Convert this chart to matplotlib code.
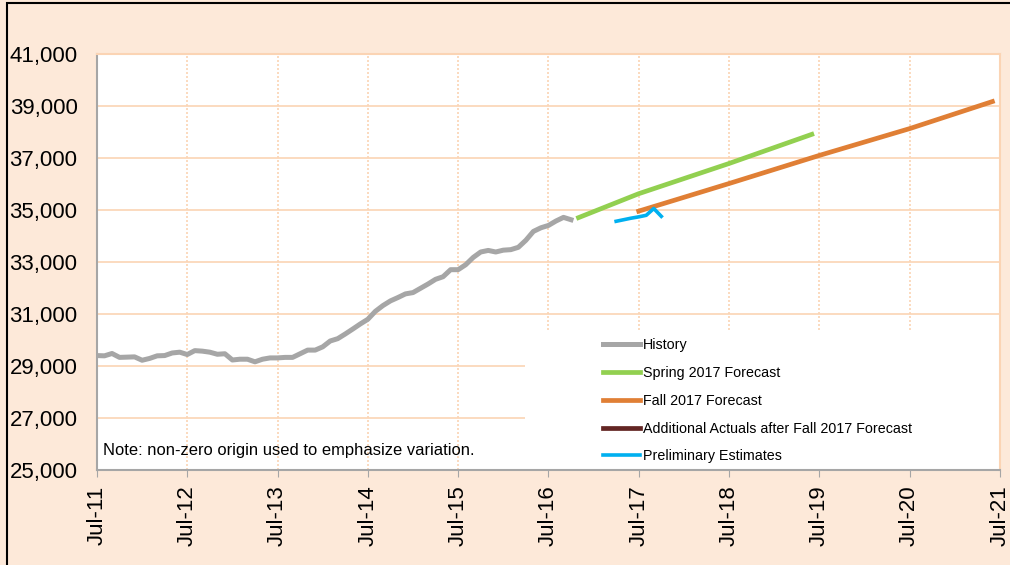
import matplotlib
matplotlib.use("Agg")
import matplotlib.pyplot as plt
from matplotlib.patches import Rectangle

# Months counted from Jul-2011 (0 = Jul-11)
hist_vals = [29400, 29390, 29480, 29330, 29340, 29350, 29220, 29290, 29390, 29400,
             29500, 29530, 29440, 29590, 29570, 29530, 29450, 29470, 29230, 29260,
             29260, 29160, 29260, 29310, 29310, 29330, 29330, 29470, 29610, 29610,
             29735, 29960, 30050, 30230, 30420, 30615, 30795, 31100, 31320, 31500,
             31630, 31770, 31820, 31985, 32150, 32330, 32430, 32700, 32700, 32890,
             33170, 33380, 33440, 33380, 33450, 33470, 33560, 33830, 34170, 34310,
             34400, 34570, 34710, 34620]
hist_months = list(range(len(hist_vals)))

spring_months = [64, 72, 84, 95]
spring_vals = [34700, 35620, 36780, 37900]

fall_months = [72, 84, 96, 108, 119]
fall_vals = [34950, 36010, 37090, 38120, 39160]

prelim_months = [69, 70, 71, 72, 73, 74, 75]
prelim_vals = [34560, 34620, 34680, 34730, 34790, 35050, 34750]

# no additional actuals shown on the chart
extra_months = []
extra_vals = []

tick_months = [0, 12, 24, 36, 48, 60, 72, 84, 96, 108, 120]
tick_labels = ['Jul-11', 'Jul-12', 'Jul-13', 'Jul-14', 'Jul-15', 'Jul-16',
               'Jul-17', 'Jul-18', 'Jul-19', 'Jul-20', 'Jul-21']
y_ticks = list(range(25000, 41001, 2000))

BG = '#FDE9D9'
GRID = '#FBD4B4'
plt.rcParams['font.family'] = ['Liberation Sans', 'DejaVu Sans']

fig = plt.figure(figsize=(10.1, 5.65), dpi=100, facecolor=BG)
ax = fig.add_axes([0.096, 0.168, 0.894, 0.737])
ax.set_facecolor('white')

ax.plot(hist_months, hist_vals, color='#A6A6A6', lw=3.6, label='History', zorder=3)
ax.plot(spring_months, spring_vals, color='#92D050', lw=3.4, label='Spring 2017 Forecast', zorder=3)
ax.plot(fall_months, fall_vals, color='#E07F35', lw=3.4, label='Fall 2017 Forecast', zorder=3)
ax.plot(extra_months, extra_vals, color='#632523', lw=3.4,
        label='Additional Actuals after Fall 2017 Forecast', zorder=3)
ax.plot(prelim_months, prelim_vals, color='#00B0F0', lw=2.6, label='Preliminary Estimates', zorder=3)

ax.set_xlim(0, 120)
ax.set_ylim(25000, 41000)
ax.set_xticks(tick_months)
ax.set_xticklabels(tick_labels, rotation=90, fontsize=16)
ax.set_yticks(y_ticks)
ax.set_yticklabels([f'{v:,}' for v in y_ticks], fontsize=16)
ax.tick_params(axis='y', length=0, pad=14)
ax.tick_params(axis='x', length=5, color='#A6A6A6', pad=6)

ax.set_axisbelow(True)
ax.grid(axis='y', color=GRID, lw=1.2, ls='-')
ax.grid(axis='x', color=GRID, lw=1.2, ls=(0, (1.2, 1.2)))

for s in ['left', 'bottom']:
    ax.spines[s].set_color('#A6A6A6')
    ax.spines[s].set_linewidth(1.5)
for s in ['top', 'right']:
    ax.spines[s].set_color(GRID)
    ax.spines[s].set_linewidth(1.5)

# white area behind the legend
ax.add_patch(Rectangle((0.474, 0), 0.526, 0.334, transform=ax.transAxes,
                       facecolor='white', edgecolor='none', zorder=1))

ax.legend(loc='upper left', bbox_to_anchor=(0.560, 0.316), frameon=False,
          fontsize=10.3, handlelength=2.6, handletextpad=0.2, labelspacing=0.96,
          borderpad=0, borderaxespad=0)

ax.text(0.0066, 0.048, 'Note: non-zero origin used to emphasize variation.',
        transform=ax.transAxes, fontsize=11.9, va='center', ha='left')

# outer black frame (cropped at right and bottom)
fig.patches.append(Rectangle((0.007, -0.02), 1.05, 1.015, transform=fig.transFigure,
                             facecolor='none', edgecolor='black', lw=1.5))

fig.savefig('out.png', dpi=100, facecolor=BG)
